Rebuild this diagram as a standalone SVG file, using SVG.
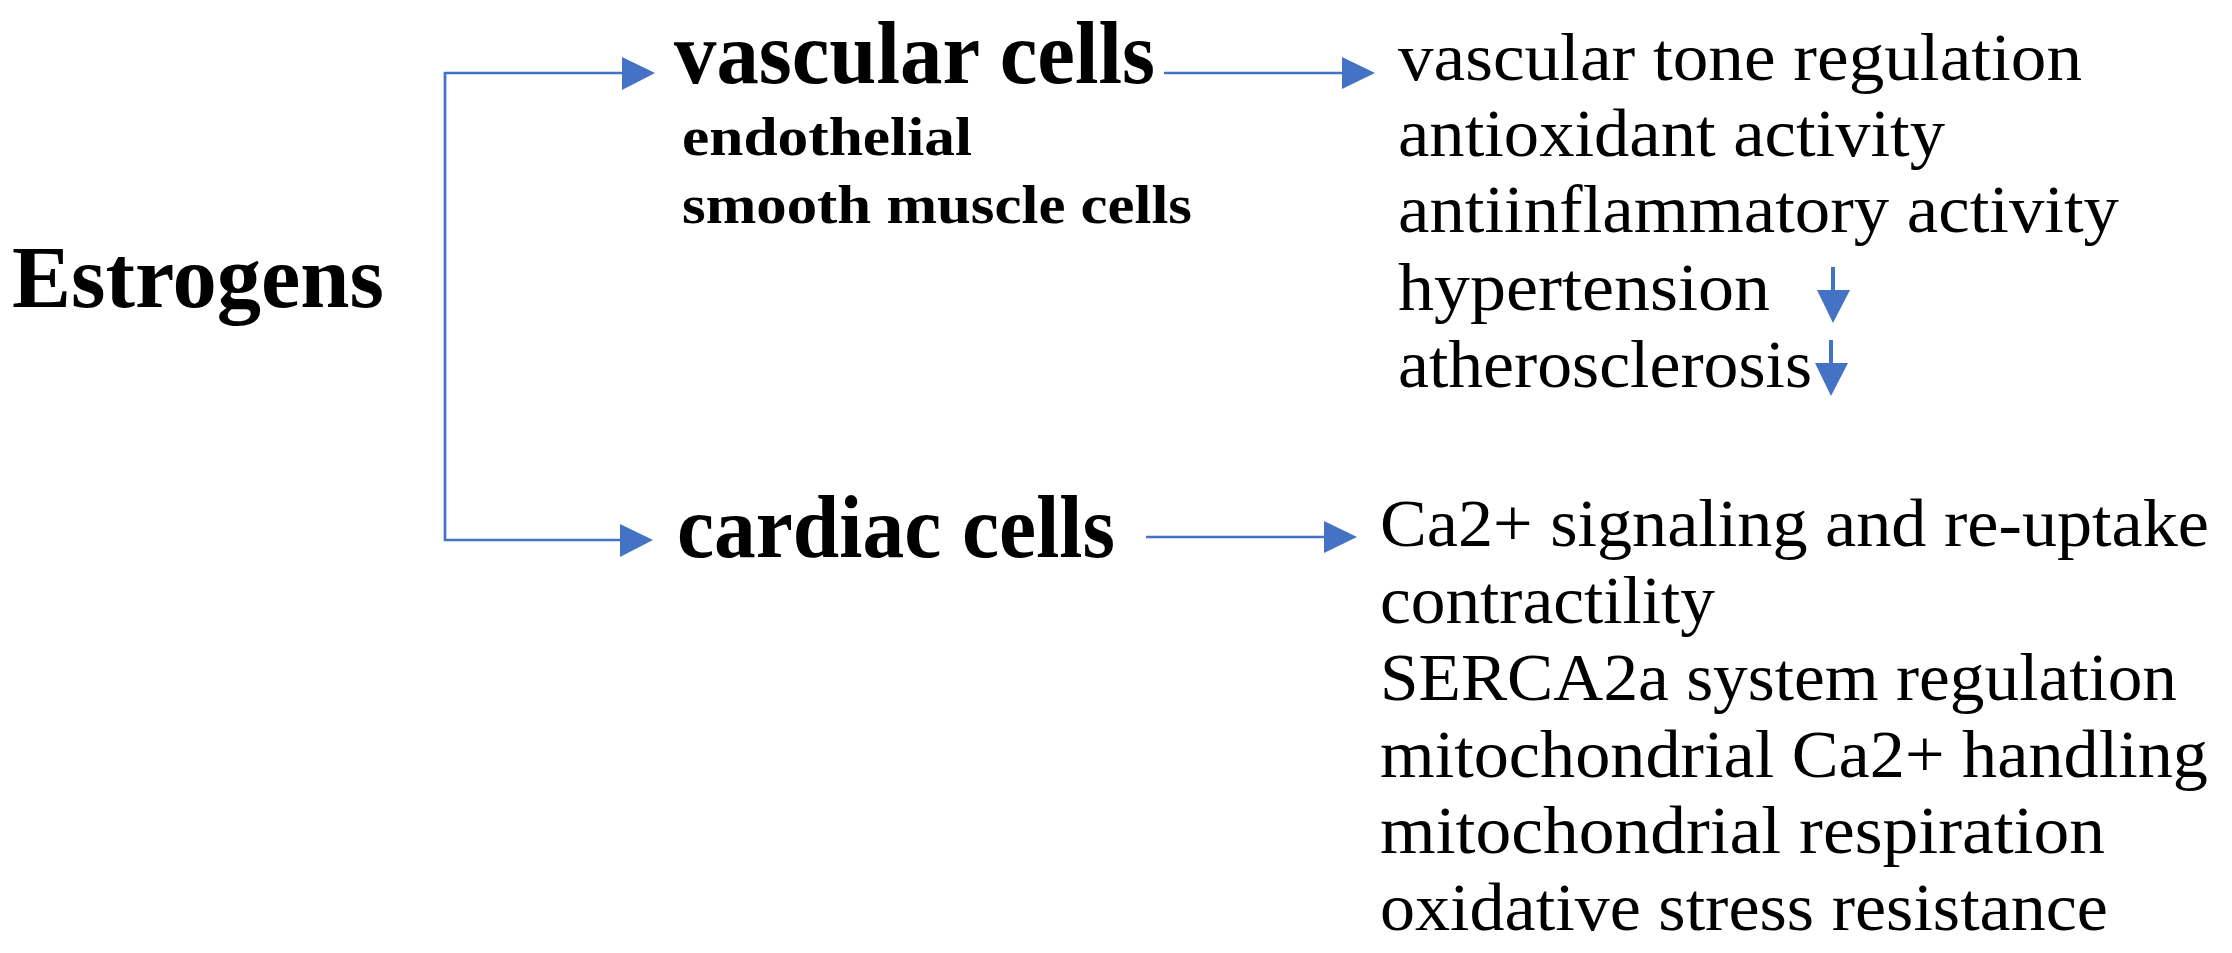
<svg xmlns="http://www.w3.org/2000/svg" width="2232" height="953" viewBox="0 0 2232 953">
<style>
text{font-family:"Liberation Serif","Times New Roman",serif;fill:#000}
.big{font-size:88px;font-weight:bold}
.sub{font-size:55px;font-weight:bold}
.item{font-size:67px}
.conn{stroke:#4472C4;stroke-width:2.7;fill:none}
.head{fill:#4472C4}
</style>
<rect width="2232" height="953" fill="#fff"/>
<g id="estrogens"><text class="big" x="12" y="307" textLength="372" lengthAdjust="spacingAndGlyphs">Estrogens</text></g>
<g id="vascular">
<text class="big" x="674" y="83" textLength="481" lengthAdjust="spacingAndGlyphs">vascular cells</text>
<text class="sub" x="682" y="155" textLength="290" lengthAdjust="spacingAndGlyphs">endothelial</text>
<text class="sub" x="682" y="223" textLength="510" lengthAdjust="spacingAndGlyphs">smooth muscle cells</text>
</g>
<g id="cardiac"><text class="big" x="677" y="557" textLength="438" lengthAdjust="spacingAndGlyphs">cardiac cells</text></g>
<g id="vascular-effects">
<text class="item" x="1398" y="80" textLength="684" lengthAdjust="spacingAndGlyphs">vascular tone regulation</text>
<text class="item" x="1398" y="156" textLength="547" lengthAdjust="spacingAndGlyphs">antioxidant activity</text>
<text class="item" x="1398" y="232" textLength="721" lengthAdjust="spacingAndGlyphs">antiinflammatory activity</text>
<text class="item" x="1398" y="310" textLength="372" lengthAdjust="spacingAndGlyphs">hypertension</text>
<text class="item" x="1398" y="387" textLength="414" lengthAdjust="spacingAndGlyphs">atherosclerosis</text>
</g>
<g id="cardiac-effects">
<text class="item" x="1380" y="546" textLength="829" lengthAdjust="spacingAndGlyphs">Ca2+ signaling and re-uptake</text>
<text class="item" x="1380" y="623" textLength="335" lengthAdjust="spacingAndGlyphs">contractility</text>
<text class="item" x="1380" y="700" textLength="797" lengthAdjust="spacingAndGlyphs">SERCA2a system regulation</text>
<text class="item" x="1380" y="777" textLength="828" lengthAdjust="spacingAndGlyphs">mitochondrial Ca2+ handling</text>
<text class="item" x="1380" y="853" textLength="725" lengthAdjust="spacingAndGlyphs">mitochondrial respiration</text>
<text class="item" x="1380" y="930" textLength="728" lengthAdjust="spacingAndGlyphs">oxidative stress resistance</text>
</g>
<g id="connectors">
<path class="conn" d="M623,73 H445 V540 H621"/>
<polygon class="head" points="622,57 655,73 622,90"/>
<polygon class="head" points="620,524 653,540 620,557"/>
<line class="conn" x1="1164" y1="73" x2="1343" y2="73"/>
<polygon class="head" points="1342,57 1375,73 1342,89"/>
<line class="conn" x1="1146" y1="537" x2="1325" y2="537"/>
<polygon class="head" points="1324,521 1357,537 1324,553"/>
<line class="conn" style="stroke-width:4" x1="1833" y1="267" x2="1833" y2="291"/>
<polygon class="head" points="1817,290 1850,290 1833,323"/>
<line class="conn" style="stroke-width:4" x1="1831" y1="340" x2="1831" y2="364"/>
<polygon class="head" points="1815,363 1848,363 1831,396"/>
</g>
</svg>
